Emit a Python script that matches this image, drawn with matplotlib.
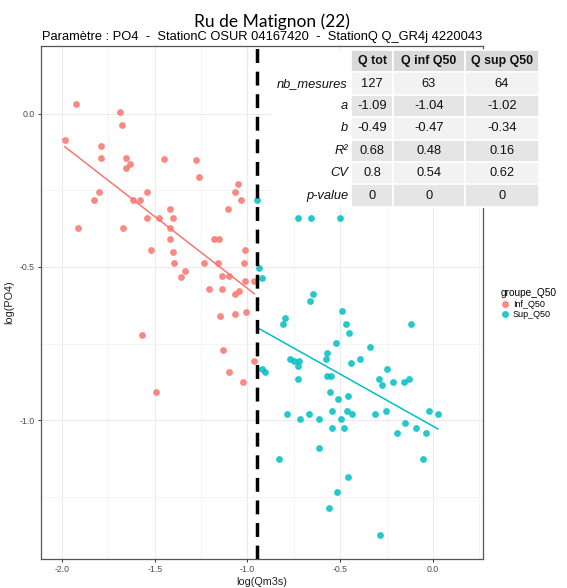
import matplotlib
matplotlib.use("Agg")
import matplotlib.pyplot as plt
from matplotlib.patches import Rectangle
from matplotlib.lines import Line2D
import numpy as np

plt.rcParams['font.family'] = ['Liberation Sans', 'DejaVu Sans']

# --- data ---
inf_x = [-1.926, -1.985, -1.687, -1.675, -1.788, -1.788, -1.655, -1.635, -1.655, -1.448,
         -1.279, -1.263, -1.799, -1.826, -1.616, -1.581, -1.543, -1.912, -1.671, -1.540,
         -1.475, -1.419, -1.400, -1.419, -1.419, -1.522, -1.400, -1.396, -1.339, -1.360,
         -1.236, -1.209, -1.181, -1.154, -1.159, -1.136, -1.098, -1.136, -1.069, -1.046,
         -1.147, -1.069, -1.010, -1.013, -1.017, -1.013, -0.963, -1.104, -1.066, -1.053,
         -1.035, -1.570, -1.130, -1.492, -1.100, -1.023, -0.963]
inf_y = [0.034, -0.086, 0.005, -0.037, -0.106, -0.143, -0.143, -0.164, -0.175, -0.148,
         -0.150, -0.207, -0.256, -0.282, -0.282, -0.282, -0.256, -0.371, -0.371, -0.341,
         -0.341, -0.310, -0.341, -0.371, -0.407, -0.444, -0.452, -0.487, -0.513, -0.533,
         -0.487, -0.572, -0.407, -0.407, -0.487, -0.528, -0.528, -0.572, -0.589, -0.578,
         -0.661, -0.655, -0.647, -0.444, -0.487, -0.546, -0.546, -0.310, -0.256, -0.230,
         -0.282, -0.723, -0.772, -0.909, -0.843, -0.877, -0.806]

sup_x = [-0.726, -0.658, -0.501, -0.938, -0.923, -0.645, -0.661, -0.489, -0.796, -0.810,
         -0.471, -0.453, -0.117, -0.521, -0.341, -0.570, -0.579, -0.769, -0.749, -0.721,
         -0.726, -0.392, -0.440, -0.920, -0.904, -0.726, -0.570, -0.548, -0.250, -0.289,
         -0.277, -0.214, -0.158, -0.129, -0.554, -0.514, -0.460, -0.789, -0.719, -0.668,
         -0.615, -0.546, -0.464, -0.438, -0.494, -0.543, -0.478, -0.311, -0.253, -0.194,
         -0.153, -0.090, -0.036, -0.023, 0.027, -0.613, -0.829, -0.056, -0.457, -0.518,
         -0.561, -0.287, -0.947]
sup_y = [-0.340, -0.340, -0.340, -0.504, -0.537, -0.589, -0.611, -0.643, -0.668, -0.687,
         -0.687, -0.717, -0.687, -0.747, -0.762, -0.780, -0.799, -0.799, -0.806, -0.806,
         -0.825, -0.799, -0.815, -0.834, -0.843, -0.865, -0.855, -0.855, -0.834, -0.865,
         -0.886, -0.877, -0.877, -0.865, -0.909, -0.932, -0.921, -0.981, -0.997, -0.981,
         -0.997, -0.971, -0.971, -0.981, -0.997, -1.027, -1.027, -0.981, -0.971, -1.042,
         -1.010, -1.027, -1.042, -0.971, -0.981, -1.091, -1.126, -1.126, -1.187, -1.235,
         -1.287, -1.376, -0.282]

q50_log = -0.946

col_names = ['Q tot', 'Q inf Q50', 'Q sup Q50']
row_names = ['nb_mesures', 'a', 'b', 'R²', 'CV', 'p-value']
nb_mesures = [127, 63, 64]
a_vals = [-1.09, -1.04, -1.02]
b_vals = [-0.49, -0.47, -0.34]
r2_vals = [0.68, 0.48, 0.16]
cv_vals = [0.8, 0.54, 0.62]
pval_vals = [0, 0, 0]

c_inf = '#F8766D'
c_sup = '#00BFC4'

W, H = 567, 588
fig = plt.figure(figsize=(W / 100, H / 100), dpi=100)
ax = fig.add_axes([41 / W, 1 - 559 / H, 442 / W, 513 / H])

ax.set_xlim(-2.113, 0.270)
ax.set_ylim(-1.454, 0.222)
ax.set_xticks([-2.0, -1.5, -1.0, -0.5, 0.0])
ax.set_xticklabels(['-2.0', '-1.5', '-1.0', '-0.5', '0.0'])
ax.set_yticks([-1.0, -0.5, 0.0])
ax.set_yticklabels(['-1.0', '-0.5', '0.0'])
ax.set_xticks([-1.75, -1.25, -0.75, -0.25, 0.25], minor=True)
ax.set_yticks([-1.25, -0.75, -0.25], minor=True)
ax.grid(True, which='major', color='#ebebeb', lw=0.8)
ax.grid(True, which='minor', color='#f3f3f3', lw=0.6)
ax.tick_params(which='major', length=2.5, width=0.7, color='#333333',
               labelsize=6.3, labelcolor='#4d4d4d', pad=2)
ax.tick_params(which='minor', length=0)
for s in ax.spines.values():
    s.set_color('#555555')
    s.set_linewidth(0.9)
ax.set_axisbelow(True)

ax.scatter(inf_x, inf_y, s=24, color=c_inf, alpha=0.85, lw=0, zorder=3)
ax.scatter(sup_x, sup_y, s=24, color=c_sup, alpha=0.85, lw=0, zorder=3)

# fitted lines y = a + b*x over each group's range
xi = np.array([min(inf_x), max(inf_x)])
ax.plot(xi, a_vals[1] + b_vals[1] * xi, color=c_inf, lw=1.1, zorder=4)
xs = np.array([min(sup_x), max(sup_x)])
ax.plot(xs, a_vals[2] + b_vals[2] * xs, color=c_sup, lw=1.1, zorder=4)

ax.axvline(q50_log, color='black', lw=2.5, linestyle=(0, (4.0, 2.5)), zorder=5)

ax.set_xlabel('log(Qm3s)', fontsize=7.8, color='#222222', labelpad=2)
ax.set_ylabel('log(PO4)', fontsize=7.8, color='#222222', labelpad=4)

fig.text(272 / W, 1 - 22 / H, 'Ru de Matignon (22)', ha='center', va='center',
         fontsize=12.5, family=['Lato', 'DejaVu Sans'])
fig.text(262 / W, 1 - 37 / H,
         'Paramètre : PO4  -  StationC OSUR 04167420  -  StationQ Q_GR4j 4220043',
         ha='center', va='center', fontsize=9.3)

handles = [Line2D([], [], marker='o', ls='', color=c_inf, alpha=0.85, ms=5, mew=0),
           Line2D([], [], marker='o', ls='', color=c_sup, alpha=0.85, ms=5, mew=0)]
leg = fig.legend(handles, ['Inf_Q50', 'Sup_Q50'], title='groupe_Q50',
                 loc='upper left', bbox_to_anchor=(494 / W, 1 - 282 / H),
                 frameon=False, fontsize=6.5, title_fontsize=7.3,
                 handlelength=1.0, handletextpad=0.4, labelspacing=0.15,
                 borderpad=0.2)
leg._legend_box.align = 'left'

# table drawn in figure pixel space
tax = fig.add_axes([0, 0, 1, 1], zorder=10)
tax.set_xlim(0, W)
tax.set_ylim(H, 0)
tax.axis('off')
tax.patch.set_alpha(0)

col_edges = [272, 351, 393, 465, 539]
row_top = 50
row_h = 22.4
cells = [nb_mesures, a_vals, b_vals, r2_vals, cv_vals, pval_vals]

# white background for label column
tax.add_patch(Rectangle((col_edges[0], row_top), col_edges[1] - col_edges[0],
                        row_h * 7, color='white', lw=0))
for j, name in enumerate(col_names):
    x0, x1 = col_edges[j + 1], col_edges[j + 2]
    tax.add_patch(Rectangle((x0, row_top), x1 - x0, row_h, facecolor='#d9d9d9',
                            edgecolor='white', lw=1.2))
    tax.text((x0 + x1) / 2, row_top + row_h / 2, name, ha='center', va='center',
             fontsize=8.9, fontweight='bold', color='#111111')
for i, name in enumerate(row_names):
    y0 = row_top + row_h * (i + 1)
    bg = '#f2f2f2' if i % 2 == 0 else '#e5e5e5'
    tax.text(col_edges[1] - 3, y0 + row_h / 2, name, ha='right', va='center',
             fontsize=9.3, style='italic', color='#111111')
    for j in range(3):
        x0, x1 = col_edges[j + 1], col_edges[j + 2]
        tax.add_patch(Rectangle((x0, y0), x1 - x0, row_h, facecolor=bg,
                                edgecolor='white', lw=1.2))
        tax.text((x0 + x1) / 2, y0 + row_h / 2, str(cells[i][j]), ha='center',
                 va='center', fontsize=9.3, color='#111111')

fig.savefig('out.png', dpi=100)
